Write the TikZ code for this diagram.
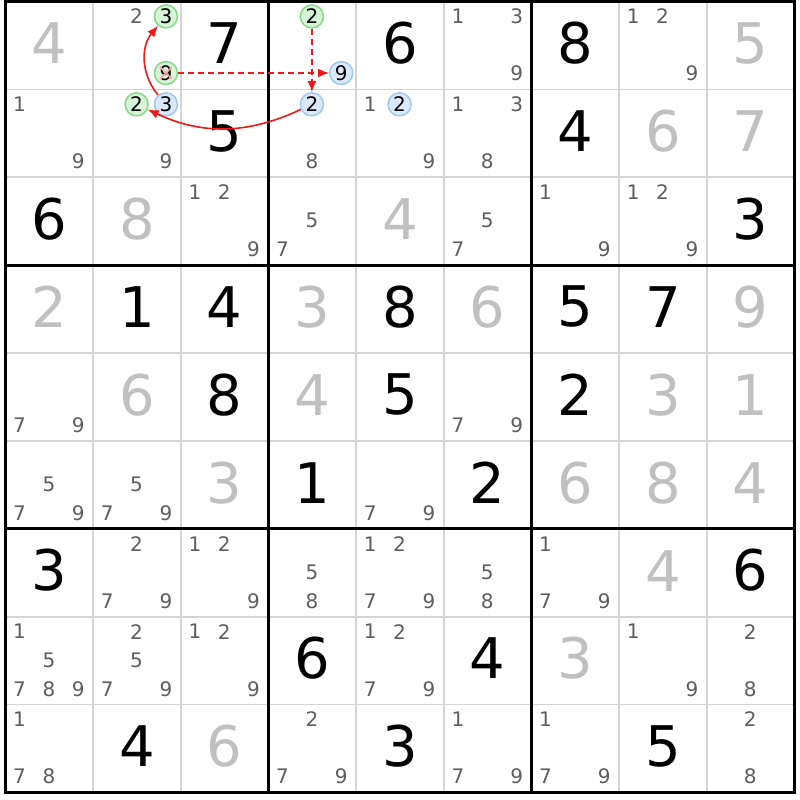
\documentclass[tikz,border=0pt]{standalone}
\usepackage{fontspec}
\setmainfont{DejaVu Sans}
\usetikzlibrary{arrows.meta}
\definecolor{givengray}{HTML}{C0C0C0}
\definecolor{candgray}{HTML}{5E5E5E}
\definecolor{gridgray}{HTML}{D4D4D4}
\definecolor{greenline}{HTML}{86D886}
\definecolor{greenfill}{HTML}{D6F4D6}
\definecolor{blueline}{HTML}{9CC8F2}
\definecolor{bluefill}{HTML}{DAEAFB}
\definecolor{linkred}{HTML}{F01818}

\begin{document}
\begin{tikzpicture}[x=87.67pt, y=-87.89pt,
    given/.style={inner sep=0pt, text=givengray, font=\fontsize{56}{56}\selectfont},
    solved/.style={given, text=black},
    cand/.style={inner sep=0pt, text=candgray, font=\fontsize{20}{20}\selectfont},
    greencand/.style={cand, circle, text=black, draw=greenline, fill=greenfill, line width=1.5pt, minimum size=23pt},
    bluecand/.style={greencand, draw=blueline, fill=bluefill},
    link/.style={draw=linkred, line width=1.6pt, -{Latex[length=11pt, width=9pt]}},
    weaklink/.style={link, dash pattern=on 6pt off 4pt},
  ]
    \useasboundingbox (-0.0627,-0.0171) rectangle (9.0624,9.0852);
    \fill[white] (-0.0627,-0.0171) rectangle (9.0624,9.0852);

    % cell lines, then box lines
    \foreach \i in {1,2,4,5,7,8} {
      \draw[gridgray, line width=1.6pt] (\i,0) -- (\i,9);
      \draw[gridgray, line width=1.6pt] (0,\i) -- (9,\i);
    }
    \foreach \i in {3,6} {
      \draw[line width=3pt] (\i,0) -- (\i,9);
      \draw[line width=3pt] (0,\i) -- (9,\i);
    }
    \draw[line width=3pt] (0,0) rectangle (9,9);

    % givens
    \foreach \r/\c/\d in {1/1/4, 1/9/5, 2/8/6, 2/9/7, 3/2/8, 3/5/4, 4/1/2, 4/4/3, 4/6/6, 4/9/9,
        5/2/6, 5/4/4, 5/8/3, 5/9/1, 6/3/3, 6/7/6, 6/8/8, 6/9/4, 7/8/4, 8/7/3, 9/3/6}
      \node[given] (n\r\c) at (\c-0.5,\r-0.525) {\d};

    % solved cells
    \foreach \r/\c/\d in {1/3/7, 1/5/6, 1/7/8, 2/3/5, 2/7/4, 3/1/6, 3/9/3, 4/2/1, 4/3/4, 4/5/8,
        4/7/5, 4/8/7, 5/3/8, 5/5/5, 5/7/2, 6/4/1, 6/6/2, 7/1/3, 7/9/6, 8/4/6, 8/6/4, 9/2/4,
        9/5/3, 9/8/5}
      \node[solved] (n\r\c) at (\c-0.5,\r-0.525) {\d};

    % pencil marks
    \foreach \r/\c/\ds in {1/2/{2}, 1/6/{1,3,9}, 1/8/{1,2,9}, 2/1/{1,9}, 2/2/{9}, 2/4/{8},
        2/5/{1,9}, 2/6/{1,3,8}, 3/3/{1,2,9}, 3/4/{5,7}, 3/6/{5,7}, 3/7/{1,9}, 3/8/{1,2,9},
        5/1/{7,9}, 5/6/{7,9}, 6/1/{5,7,9}, 6/2/{5,7,9}, 6/5/{7,9}, 7/2/{2,7,9}, 7/3/{1,2,9},
        7/4/{5,8}, 7/5/{1,2,7,9}, 7/6/{5,8}, 7/7/{1,7,9}, 8/1/{1,5,7,8,9}, 8/2/{2,5,7,9},
        8/3/{1,2,9}, 8/5/{1,2,7,9}, 8/8/{1,9}, 8/9/{2,8}, 9/1/{1,7,8}, 9/4/{2,7,9},
        9/6/{1,7,9}, 9/7/{1,7,9}, 9/9/{2,8}}
      \foreach \d in \ds
        \node[cand] (c\r\c\d) at ({\c-1+0.16+0.335*mod(\d-1,3)},{\r-1+0.17+0.325*floor((\d-1)/3)}) {\d};

    % chain candidates
    \node[greencand] (r1c2n3) at (1.83,0.17) {3};
    \node[greencand] (r1c2n9) at (1.83,0.8135) {9};
    \node[greencand] (r1c4n2) at (3.495,0.17) {2};
    \node[bluecand] (r1c4n9) at (3.83,0.8135) {9};
    \node[greencand] (r2c2n2) at (1.495,1.17) {2};
    \node[bluecand] (r2c2n3) at (1.83,1.17) {3};
    \node[bluecand] (r2c4n2) at (3.495,1.17) {2};
    \node[bluecand] (r2c5n2) at (4.495,1.17) {2};

    % eliminated 9
    \draw[linkred!40, line width=1.6pt] ([shift={(-6pt,-6pt)}]r1c2n9.center) -- ([shift={(6pt,6pt)}]r1c2n9.center);
    \draw[linkred!40, line width=1.6pt] ([shift={(-6pt,6pt)}]r1c2n9.center) -- ([shift={(6pt,-6pt)}]r1c2n9.center);

    \draw[link] (r2c2n3) to[bend left=40] (r1c2n3);
    \draw[weaklink] (r1c2n9) -- (r1c4n9);
    \draw[weaklink] (r1c4n2) -- (r2c4n2);
    \draw[link] (r2c4n2) to[bend left=25] (r2c2n2);
  \end{tikzpicture}
\end{document}
